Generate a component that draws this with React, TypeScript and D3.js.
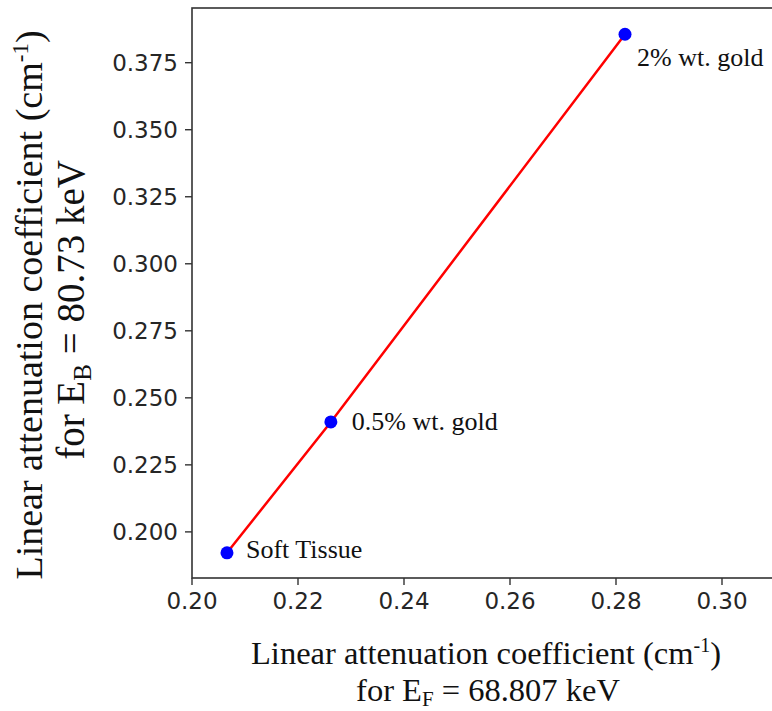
import React from "react";
import * as d3 from "d3";

const materials = ["Soft Tissue", "0.5% wt. gold", "2% wt. gold"];
const muLow = [0.2066, 0.2262, 0.2817];
const muHigh = [0.1922, 0.241, 0.3856];
const xTicks = [0.2, 0.22, 0.24, 0.26, 0.28, 0.3];
const yTicks = [0.2, 0.225, 0.25, 0.275, 0.3, 0.325, 0.35, 0.375];
const labelOffsets = [
  [19, 5],
  [21, 8],
  [12, 32],
];

const W = 772;
const H = 711;
const left = 192;
const top = 8;
const bottom = 578;

export default function App() {
  const x = d3.scaleLinear().domain([0.2, 0.31]).range([left, left + 583]);
  const y = d3.scaleLinear().domain([0.1828, 0.3954]).range([bottom, top]);
  const pts = muLow.map((v, i) => [x(v), y(muHigh[i])] as [number, number]);
  const line = d3.line()(pts) || "";
  const serif = "'Liberation Serif', 'Times New Roman', serif";
  const sans = "'DejaVu Sans', sans-serif";
  const tickColor = "#262626";
  return (
    <svg width={W} height={H} style={{ position: "absolute", left: 0, top: 0, background: "#fff" }}>
      <rect x={0} y={0} width={W} height={H} fill="#fff" />
      {/* frame */}
      <rect x={left} y={top} width={x(0.31) - left} height={bottom - top} fill="none" stroke="#333" strokeWidth={1.6} />
      {/* x ticks */}
      {xTicks.map((t) => (
        <g key={"x" + t}>
          <line x1={x(t)} x2={x(t)} y1={bottom} y2={bottom + 7} stroke="#333" strokeWidth={1.4} />
          <text x={x(t)} y={bottom + 31} textAnchor="middle" fontFamily={sans} fontSize={23} fill={tickColor}>
            {d3.format(".2f")(t)}
          </text>
        </g>
      ))}
      {/* y ticks */}
      {yTicks.map((t) => (
        <g key={"y" + t}>
          <line x1={left - 7} x2={left} y1={y(t)} y2={y(t)} stroke="#333" strokeWidth={1.4} />
          <text x={left - 14} y={y(t) + 8.5} textAnchor="end" fontFamily={sans} fontSize={23} fill={tickColor}>
            {d3.format(".3f")(t)}
          </text>
        </g>
      ))}
      {/* line */}
      <path d={line} fill="none" stroke="#ff0000" strokeWidth={2.5} />
      {pts.map(([px, py], i) => (
        <g key={materials[i]}>
          <circle cx={px} cy={py} r={6.5} fill="#0000ff" />
          <text x={px + labelOffsets[i][0]} y={py + labelOffsets[i][1]} fontFamily={serif} fontSize={26} fill="#111">
            {materials[i]}
          </text>
        </g>
      ))}
      {/* x title */}
      <text x={486} y={664} textAnchor="middle" fontFamily={serif} fontSize={32.5} fill="#111">
        Linear attenuation coefficient (cm
        <tspan fontSize={20} dy={-12}>-1</tspan>
        <tspan dy={12}>)</tspan>
      </text>
      <text x={488} y={701} textAnchor="middle" fontFamily={serif} fontSize={32.5} fill="#111">
        for E<tspan fontSize={21} dy={5}>F</tspan>
        <tspan dy={-5}> = 68.807 keV</tspan>
      </text>
      {/* y title */}
      <text transform={`translate(42,${305}) rotate(-90)`} textAnchor="middle" fontFamily={serif} fontSize={38} fill="#111">
        Linear attenuation coefficient (cm
        <tspan fontSize={23} dy={-14}>-1</tspan>
        <tspan dy={14}>)</tspan>
      </text>
      <text transform={`translate(84,${310}) rotate(-90)`} textAnchor="middle" fontFamily={serif} fontSize={39} fill="#111">
        for E<tspan fontSize={25} dy={7}>B</tspan>
        <tspan dy={-7}> = 80.73 keV</tspan>
      </text>
    </svg>
  );
}
